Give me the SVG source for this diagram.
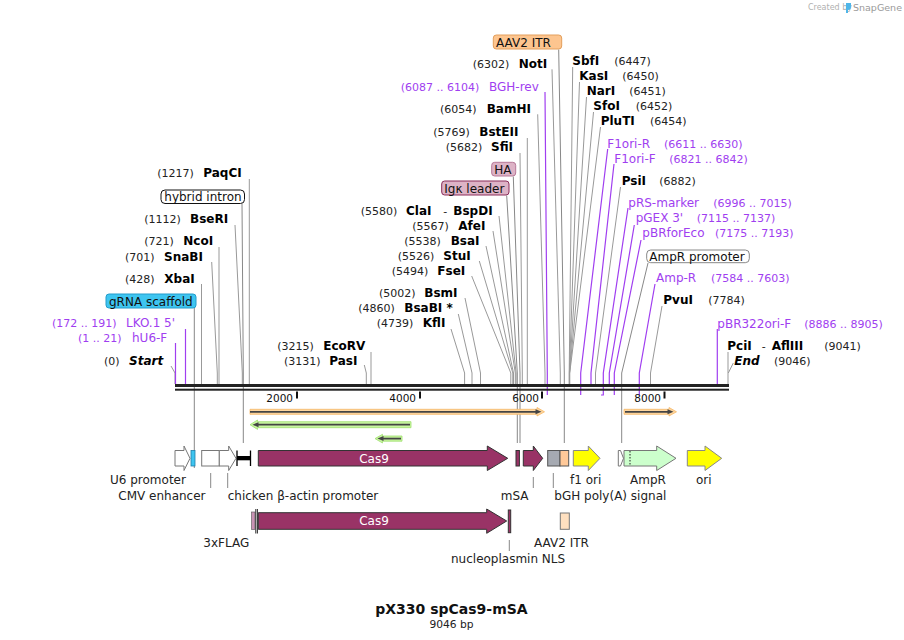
<svg xmlns="http://www.w3.org/2000/svg" width="904" height="640" viewBox="0 0 904 640">
<style>
text{font-family:"DejaVu Sans","Liberation Sans",sans-serif}
.num{font-size:11px;fill:#222}
.enz{font-size:12px;font-weight:bold;fill:#000}
.pr{font-size:12px;fill:#a03ef0}
.prn{font-size:11px;fill:#a03ef0}
.fl{font-size:12px;fill:#222}
.tk{font-size:10.5px;fill:#111}
.ln{stroke:#999;stroke-width:1;fill:none}
.fln{stroke:#888;stroke-width:1;fill:none}
.pl{stroke:#a03ef0;stroke-width:1.2;fill:none}
.mag{fill:#993366;stroke:#333;stroke-width:1}
.wt{fill:#fff;stroke:#777;stroke-width:1}
.yl{fill:#ffff00;stroke:#888;stroke-width:1}
</style>
<rect width="904" height="640" fill="#fff"/>
<g id="credit">
<text x="808" y="10" style="font-size:8px;fill:#b0b0b0">Created by</text>
<path d="M846 3 h5 v4 q0 3 -3 3 v3 h-2 z" fill="#4fb6e8"/>
<text x="853" y="10.5" style="font-size:9.5px;fill:#9a9a9a">SnapGene</text>
</g>
<g id="connectors">
<path class="ln" d="M171 366 L175 373 V384"/>
<path class="pl" d="M175.5 343 V384"/>
<path class="pl" d="M185.5 329 V384"/>
<path class="fln" d="M194.3 308 V468"/>
<path class="ln" d="M201.5 284 V384"/>
<path class="ln" d="M211.7 262 L217.3 373 V384"/>
<path class="ln" d="M219 247 V384"/>
<path class="ln" d="M235 225 L242.3 373 V384"/>
<path class="fln" d="M242 203.5 L243.3 373 V443"/>
<path class="ln" d="M249.3 179 V384"/>
<path class="ln" d="M364.3 365 L366.3 373 V384"/>
<path class="ln" d="M371 352 V384"/>
<path class="ln" d="M451 329 L464.6 373 V384"/>
<path class="ln" d="M458.3 314 L472 373 V384"/>
<path class="ln" d="M465 298 L480.5 373 V384"/>
<path class="ln" d="M471.7 276 L510.8 373 V384"/>
<path class="ln" d="M479.3 261 L512.8 373 V384"/>
<path class="ln" d="M486 246 L513.5 373 V384"/>
<path class="ln" d="M493 231 L515.3 373 V384"/>
<path class="ln" d="M499 216 L516.1 373 V384"/>
<path class="fln" d="M506.7 195.5 L517.3 373 V443"/>
<path class="fln" d="M513.3 176.5 L520 373 V443"/>
<path class="ln" d="M520 153 L522.3 373 V384"/>
<path class="ln" d="M527.3 138 V384"/>
<path class="ln" d="M537.7 114.3 L545 373 V384"/>
<path class="pl" d="M545 92 L547.3 373 V395"/>
<path class="fln" d="M558.7 49.5 L564.3 373 V443"/>
<path class="ln" d="M552 69.3 L560.3 373 V384"/>
<path class="ln" d="M572.7 67 L569.2 373 V384"/>
<path class="ln" d="M579.5 82 L569.4 373 V384"/>
<path class="ln" d="M586.5 97 L569.5 373 V384"/>
<path class="ln" d="M593.5 112 L569.6 373 V384"/>
<path class="ln" d="M600.5 127 L569.7 373 V384"/>
<path class="pl" d="M607.7 149 L580.7 373 V395"/>
<path class="pl" d="M614 164 L591 373 V384"/>
<path class="ln" d="M620.5 187 L595.5 373 V384"/>
<path class="pl" d="M628 208 L603.3 373 V395 H601"/>
<path class="pl" d="M634.3 225 L609.3 373 V384"/>
<path class="pl" d="M641 240 L614.3 373 V395"/>
<path class="fln" d="M648 263 L621.7 373 V443"/>
<path class="pl" d="M655 284 L639.3 373 V395"/>
<path class="ln" d="M662 306 L650.5 373 V384"/>
<path class="pl" d="M717.3 329 V384"/>
<path class="ln" d="M728 352 V384"/>
<path class="ln" d="M733.3 363 L728.3 373"/>
<path class="fln" d="M210.7 473 V488"/>
<path class="fln" d="M227.7 473 V488"/>
<path class="fln" d="M533.3 477 V488"/>
<path class="fln" d="M553.3 473 V488"/>
<path class="fln" d="M509.3 540 V551"/>
</g>
<g id="backbone">
<rect x="175" y="384" width="554" height="3" fill="#222"/>
<rect x="175" y="388.7" width="554" height="2" fill="#222"/>
<rect x="296" y="391.5" width="2" height="7" fill="#111"/>
<rect x="419" y="391.5" width="2" height="7" fill="#111"/>
<rect x="541" y="391.5" width="2" height="7" fill="#111"/>
<rect x="663.5" y="391.5" width="2" height="7" fill="#111"/>
<text class="tk" x="293" y="402" text-anchor="end">2000</text>
<text class="tk" x="416" y="402" text-anchor="end">4000</text>
<text class="tk" x="539" y="402" text-anchor="end">6000</text>
<text class="tk" x="661" y="402" text-anchor="end">8000</text>
</g>
<g id="labels-left">
<g id="start"><text class="num" x="104" y="365">(0)</text><text class="enz" x="129" y="365" font-style="italic">Start</text></g>
<g id="hU6-F"><text class="prn" x="78" y="342">(1 .. 21)</text><text class="pr" x="132" y="342">hU6-F</text></g>
<g id="LKO1"><text class="prn" x="52" y="327">(172 .. 191)</text><text class="pr" x="126" y="327">LKO.1 5'</text></g>
<g id="gRNA-label"><rect x="106" y="294" width="90" height="14" rx="3" fill="#3ec5f0" stroke="#239ccb"/><text class="fl" x="109" y="305.5" style="fill:#111">gRNA scaffold</text></g>
<g id="XbaI"><text class="num" x="125" y="282.5">(428)</text><text class="enz" x="164.3" y="282.5">XbaI</text></g>
<g id="SnaBI"><text class="num" x="125" y="261">(701)</text><text class="enz" x="164" y="261">SnaBI</text></g>
<g id="NcoI"><text class="num" x="144.3" y="245">(721)</text><text class="enz" x="183.3" y="245">NcoI</text></g>
<g id="BseRI"><text class="num" x="144.3" y="222.5">(1112)</text><text class="enz" x="190" y="222.5">BseRI</text></g>
<g id="hybrid-label"><rect x="161" y="190" width="83.5" height="13.5" rx="4" fill="#fff" stroke="#111"/><text class="fl" x="164.3" y="201" style="fill:#111">hybrid intron</text></g>
<g id="PaqCI"><text class="num" x="157.3" y="177">(1217)</text><text class="enz" x="203.3" y="177">PaqCI</text></g>
<g id="PasI"><text class="num" x="284" y="365">(3131)</text><text class="enz" x="329.3" y="365">PasI</text></g>
<g id="EcoRV"><text class="num" x="277.3" y="350">(3215)</text><text class="enz" x="323.3" y="350">EcoRV</text></g>
<g id="KflI"><text class="num" x="376.7" y="327">(4739)</text><text class="enz" x="422.7" y="327">KflI</text></g>
<g id="BsaBI"><text class="num" x="358.3" y="311.5">(4860)</text><text class="enz" x="404.3" y="311.5">BsaBI *</text></g>
<g id="BsmI"><text class="num" x="379" y="297">(5002)</text><text class="enz" x="424.3" y="297">BsmI</text></g>
<g id="FseI"><text class="num" x="391.7" y="275">(5494)</text><text class="enz" x="437.3" y="275">FseI</text></g>
<g id="StuI"><text class="num" x="397.7" y="260.3">(5526)</text><text class="enz" x="443.3" y="260.3">StuI</text></g>
<g id="BsaI"><text class="num" x="404.3" y="245.3">(5538)</text><text class="enz" x="450.7" y="245.3">BsaI</text></g>
<g id="AfeI"><text class="num" x="412.3" y="230">(5567)</text><text class="enz" x="458.3" y="230">AfeI</text></g>
<g id="ClaI"><text class="num" x="360.7" y="215.3">(5580)</text><text class="enz" x="406" y="215.3">ClaI</text><text class="num" x="443.3" y="215.3">-</text><text class="enz" x="453.3" y="215.3">BspDI</text></g>
<g id="Igk-label"><rect x="441.7" y="181" width="67.3" height="14" rx="3" fill="#ddb3c6" stroke="#8a2d5a"/><text class="fl" x="444.3" y="192.5" style="fill:#111">Igκ leader</text></g>
<g id="HA-label"><rect x="491.7" y="162.3" width="24" height="13.7" rx="3" fill="#ddb3c6" stroke="#b77898"/><text class="fl" x="494.3" y="173.5" style="fill:#111">HA</text></g>
<g id="SfiI"><text class="num" x="445.7" y="151">(5682)</text><text class="enz" x="491" y="151">SfiI</text></g>
<g id="BstEII"><text class="num" x="433.3" y="135.5">(5769)</text><text class="enz" x="479.3" y="135.5">BstEII</text></g>
<g id="BamHI"><text class="num" x="440" y="113.3">(6054)</text><text class="enz" x="486.7" y="113.3">BamHI</text></g>
<g id="BGH-rev"><text class="prn" x="400.7" y="91">(6087 .. 6104)</text><text class="pr" x="489" y="91">BGH-rev</text></g>
<g id="AAV2-label"><rect x="493.3" y="35" width="68.4" height="14" rx="3" fill="#fdc58f" stroke="#e39f5c"/><text class="fl" x="496" y="46.5" style="fill:#111">AAV2 ITR</text></g>
<g id="NotI"><text class="num" x="472.7" y="67.5">(6302)</text><text class="enz" x="518.7" y="67.5">NotI</text></g>
</g>
<g id="labels-right">
<g id="SbfI"><text class="enz" x="572.3" y="65.3">SbfI</text><text class="num" x="614.3" y="65.3">(6447)</text></g>
<g id="KasI"><text class="enz" x="579.3" y="80">KasI</text><text class="num" x="622.3" y="80">(6450)</text></g>
<g id="NarI"><text class="enz" x="586.7" y="95">NarI</text><text class="num" x="629.3" y="95">(6451)</text></g>
<g id="SfoI"><text class="enz" x="593.3" y="110">SfoI</text><text class="num" x="635.7" y="110">(6452)</text></g>
<g id="PluTI"><text class="enz" x="600.7" y="125">PluTI</text><text class="num" x="650" y="125">(6454)</text></g>
<g id="F1ori-R"><text class="pr" x="607.3" y="147.5">F1ori-R</text><text class="prn" x="664" y="147.5">(6611 .. 6630)</text></g>
<g id="F1ori-F"><text class="pr" x="614.3" y="162.5">F1ori-F</text><text class="prn" x="669.3" y="162.5">(6821 .. 6842)</text></g>
<g id="PsiI"><text class="enz" x="621.7" y="185.3">PsiI</text><text class="num" x="659.3" y="185.3">(6882)</text></g>
<g id="pRS-marker"><text class="pr" x="628.3" y="207">pRS-marker</text><text class="prn" x="713.3" y="207">(6996 .. 7015)</text></g>
<g id="pGEX3"><text class="pr" x="635.7" y="222">pGEX 3'</text><text class="prn" x="696.7" y="222">(7115 .. 7137)</text></g>
<g id="pBRforEco"><text class="pr" x="642.3" y="237">pBRforEco</text><text class="prn" x="715" y="237">(7175 .. 7193)</text></g>
<g id="AmpRprom-label"><rect x="646.7" y="250" width="102.6" height="12.7" rx="4" fill="#fff" stroke="#888"/><text class="fl" x="649.3" y="260.7" style="fill:#111">AmpR promoter</text></g>
<g id="Amp-R"><text class="pr" x="656" y="282">Amp-R</text><text class="prn" x="711" y="282">(7584 .. 7603)</text></g>
<g id="PvuI"><text class="enz" x="663.3" y="304.3">PvuI</text><text class="num" x="708.3" y="304.3">(7784)</text></g>
<g id="pBR322ori-F"><text class="pr" x="717.3" y="327.5">pBR322ori-F</text><text class="prn" x="804.3" y="327.5">(8886 .. 8905)</text></g>
<g id="PciI"><text class="enz" x="727.3" y="350">PciI</text><text class="num" x="761.7" y="350">-</text><text class="enz" x="771.7" y="350">AflIII</text><text class="num" x="824.3" y="350">(9041)</text></g>
<g id="end"><text class="enz" x="734.3" y="365" font-style="italic">End</text><text class="num" x="774" y="365">(9046)</text></g>
</g>
<g id="orfs">
<path d="M250 409.3 H537 V407.5 L544.5 411.8 L537 416 V414.3 H250 Z" fill="#fdd6a0" stroke="#f6b866" stroke-width="0.8"/>
<path d="M250 411.8 H538" stroke="#444" stroke-width="1.8"/>
<path d="M535.5 409.3 L541.5 411.8 L535.5 414.3 Z" fill="#444"/>
<path d="M624 409.3 H669 V407.5 L676.5 411.8 L669 416 V414.3 H624 Z" fill="#fdd6a0" stroke="#f6b866" stroke-width="0.8"/>
<path d="M625 411.8 H670" stroke="#444" stroke-width="1.8"/>
<path d="M667.5 409.3 L673.5 411.8 L667.5 414.3 Z" fill="#444"/>
<path d="M411 421.7 H257.5 V420 L250 424.7 L257.5 429.4 V427.7 H411 Z" fill="#c8f5a0" stroke="#9fe070" stroke-width="0.8"/>
<path d="M256 424.7 H410" stroke="#444" stroke-width="1.8"/>
<path d="M258.5 422.2 L252.5 424.7 L258.5 427.2 Z" fill="#444"/>
<path d="M402 436 H382.5 V434.3 L375 438.6 L382.5 443 V441.2 H402 Z" fill="#c8f5a0" stroke="#9fe070" stroke-width="0.8"/>
<path d="M381 438.6 H401" stroke="#444" stroke-width="1.8"/>
<path d="M383.5 436.1 L377.5 438.6 L383.5 441.1 Z" fill="#444"/>
</g>
<g id="features">
<g id="U6-promoter"><path class="wt" d="M175 450.5 H184 V446 L190 458.3 L184 470.5 V466 H175 Z"/><text class="fl" x="110" y="484">U6 promoter</text></g>
<g id="gRNA-scaffold"><rect x="191" y="450.5" width="4" height="15.5" fill="#3ec5f0" stroke="#1f7ea8" stroke-width="0.8"/></g>
<g id="CMV-enhancer"><rect class="wt" x="201.7" y="450.5" width="17.6" height="15.5"/><text class="fl" x="118.3" y="500">CMV enhancer</text></g>
<g id="actin-promoter"><path class="wt" d="M219.3 450.5 H228.7 V446 L236 458.3 L228.7 470.5 V466 H219.3 Z"/><text class="fl" x="227.7" y="500">chicken β-actin promoter</text></g>
<g id="hybrid-intron"><path d="M237 450.5 V466 M250.5 450.5 V466" stroke="#000" stroke-width="1.3"/><rect x="237" y="456" width="13.5" height="4.3" fill="#000"/></g>
<g id="Cas9"><path class="mag" d="M258.3 450.5 H487.3 V446 L507.7 458.3 L487.3 470.5 V466 H258.3 Z"/><text x="374" y="462.5" text-anchor="middle" style="font-size:12px;fill:#fff">Cas9</text></g>
<g id="mSA"><rect class="mag" x="516" y="450.5" width="3.4" height="15.5"/><path class="mag" d="M523.3 450.5 H533.3 V446 L542.7 458.3 L533.3 470.5 V466 H523.3 Z"/><text class="fl" x="500.7" y="500">mSA</text></g>
<g id="bGH-polyA"><rect x="547.7" y="450.5" width="12.3" height="15.5" fill="#a6aab2" stroke="#555"/><text class="fl" x="554.3" y="500">bGH poly(A) signal</text></g>
<g id="AAV2-ITR"><rect x="560" y="450.5" width="8.7" height="15.5" fill="#ffc999" stroke="#555"/></g>
<g id="f1-ori"><path class="yl" d="M573.3 450.5 H588.3 V446 L600 458.3 L588.3 470.5 V466 H573.3 Z"/><text class="fl" x="570" y="484">f1 ori</text></g>
<g id="AmpR-promoter"><path class="wt" d="M618.3 450.5 H620.5 L623.5 458.3 L620.5 466 H618.3 Z"/></g>
<g id="AmpR"><path d="M624 450.5 H656.7 V446 L676 458.3 L656.7 470.5 V466 H624 Z" fill="#ccffcc" stroke="#777"/><path d="M630 451 V466" stroke="#222" stroke-width="1" stroke-dasharray="1.5,1.5"/><text class="fl" x="630" y="484">AmpR</text></g>
<g id="ori"><path class="yl" d="M687.3 450.5 H705 V446 L721.7 458.3 L705 470.5 V466 H687.3 Z"/><text class="fl" x="696" y="484">ori</text></g>
<g id="3xFLAG"><rect x="251.5" y="512" width="3.5" height="17.5" fill="#c993b4" stroke="#555" stroke-width="0.6"/><path d="M255.8 509 V533.5 M257.4 509 V533.5" stroke="#111" stroke-width="0.9"/><text class="fl" x="203.3" y="546.5">3xFLAG</text></g>
<g id="Cas9-2"><path class="mag" d="M258.3 512.7 H486.7 V509 L506.7 521 L486.7 533.3 V529.3 H258.3 Z"/><text x="374" y="525.3" text-anchor="middle" style="font-size:12px;fill:#fff">Cas9</text></g>
<g id="nucleoplasmin-NLS"><rect class="mag" x="508.3" y="510" width="2.4" height="22.7"/><text class="fl" x="451" y="562.5">nucleoplasmin NLS</text></g>
<g id="AAV2-ITR-2"><rect x="560.3" y="513" width="9" height="16.3" fill="#ffe0c0" stroke="#777"/><text class="fl" x="534" y="546.5">AAV2 ITR</text></g>
</g>
<g id="title">
<text x="451.5" y="614" text-anchor="middle" style="font-size:14px;font-weight:bold;fill:#111">pX330 spCas9-mSA</text>
<text x="451.5" y="628" text-anchor="middle" style="font-size:10.7px;fill:#222">9046 bp</text>
</g>
</svg>
